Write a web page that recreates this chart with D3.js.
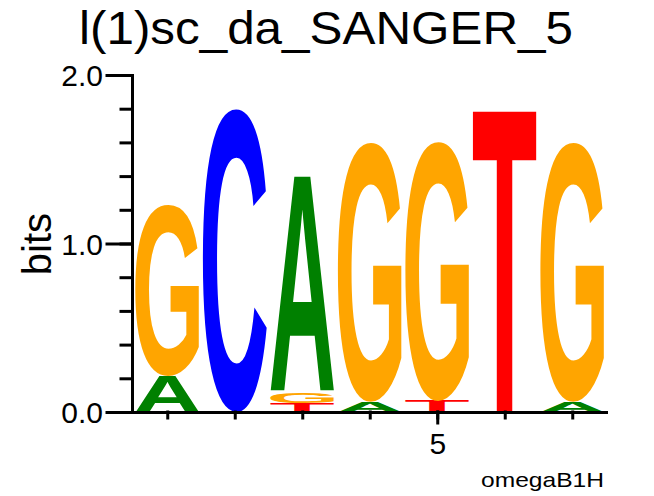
<!DOCTYPE html>
<meta charset="utf-8">
<head>
<style>
  body { margin: 0; background: #fff; }
  svg { display: block; }
  text { font-family: 'Liberation Sans', Arial, sans-serif; fill: #000; }
</style>
</head>
<body>
<div id="logo"></div>
<script src="https://cdn.jsdelivr.net/npm/d3@7"></script>
<script>

// positions along the motif
var positions = [1, 2, 3, 4, 5, 6, 7];

// information (bits) carried by each base at each position
var bitsA = [0.21, 0,    1.28,  0.06, 0,     0,    0.06];
var bitsC = [0,    1.80, 0,     0,    0,     0,    0];
var bitsG = [1.02, 0,    0.065, 1.54, 1.54,  0,    1.54];
var bitsT = [0,    0,    0.055, 0,    0.065, 1.80, 0];

var yTicks = [0, 0.2, 0.4, 0.6, 0.8, 1.0, 1.2, 1.4, 1.6, 1.8, 2.0];
var yLabels = [0, 1, 2];
var xLabels = [5];

var baseColor = {A: "#008000", C: "#0000ff", G: "#ffa500", T: "#ff0000"};

var width = 654, height = 496;

var svg = d3.select("#logo")
  .append("svg")
    .attr("width", width)
    .attr("height", height);

var x = d3.scaleLinear().domain([0.5, 7.5]).range([133.5, 606]);
var y = d3.scaleLinear().domain([0, 2]).range([412, 75]);
var colW = x(2) - x(1);

// title
svg.append("text")
  .attr("x", 79)
  .attr("y", 44)
  .attr("textLength", 494)
  .attr("lengthAdjust", "spacingAndGlyphs")
  .style("font-size", "46px")
  .text("l(1)sc_da_SANGER_5");

// ink bounds of a glyph, so letters can be stretched to fill their box
var ctx = document.createElement("canvas").getContext("2d");
var glyphFont = "bold 200px 'Liberation Sans', Arial, sans-serif";
ctx.font = glyphFont;
var ink = {};
["A", "C", "G", "T"].forEach(function(b) {
  var m = ctx.measureText(b);
  ink[b] = {l: m.actualBoundingBoxLeft, r: m.actualBoundingBoxRight,
            a: m.actualBoundingBoxAscent, d: m.actualBoundingBoxDescent};
});

// build the stacks: smallest at the bottom
var stacks = positions.map(function(p, i) {
  var col = [
    {base: "A", bits: bitsA[i]},
    {base: "C", bits: bitsC[i]},
    {base: "G", bits: bitsG[i]},
    {base: "T", bits: bitsT[i]}
  ].filter(function(d) { return d.bits > 0; })
   .sort(function(a, b) { return a.bits - b.bits; });
  var acc = 0;
  col.forEach(function(d) { d.y0 = acc; acc += d.bits; d.y1 = acc; d.pos = p; });
  return col;
});

var letters = svg.append("g").attr("class", "letters");
stacks.forEach(function(col) {
  letters.selectAll(null)
    .data(col)
    .enter()
    .append("text")
      .style("font", glyphFont)
      .style("fill", function(d) { return baseColor[d.base]; })
      .attr("transform", function(d) {
        var g = ink[d.base];
        var x0 = x(d.pos) - colW / 2 + 1.8;
        var w = colW - 3.6;
        var top = y(d.y1), h = y(d.y0) - y(d.y1);
        var sx = w / (g.l + g.r), sy = h / (g.a + g.d);
        return "translate(" + x0 + "," + top + ") scale(" + sx + "," + sy + ") translate(" + g.l + "," + g.a + ")";
      })
      .text(function(d) { return d.base; });
});

// y axis: minor ticks then major ticks with labels
svg.append("g")
  .attr("transform", "translate(132,0)")
  .call(d3.axisLeft(y).tickValues(yTicks).tickSize(11).tickFormat(""))
  .call(function(g) { g.select(".domain").remove(); });

svg.append("g")
  .attr("transform", "translate(132,0)")
  .call(d3.axisLeft(y).tickValues(yLabels).tickSize(25).tickSizeOuter(0).tickPadding(4)
        .tickFormat(d3.format(".1f")))
  .call(function(g) {
    g.selectAll("text").style("font-size", "30px").attr("dy", "0.36em");
  });

// x axis
svg.append("g")
  .attr("transform", "translate(0,412)")
  .call(d3.axisBottom(x).tickValues(positions).tickSize(6).tickSizeOuter(0).tickFormat(""));

svg.append("g")
  .attr("transform", "translate(0,412)")
  .call(d3.axisBottom(x).tickValues(xLabels).tickSize(11).tickSizeOuter(0).tickPadding(10)
        .tickFormat(d3.format("d")))
  .call(function(g) {
    g.select(".domain").remove();
    g.selectAll("text").style("font-size", "30px").attr("dy", "0.71em");
  });

svg.selectAll(".domain, .tick line")
  .attr("stroke", "#000")
  .attr("stroke-width", 3)
  .attr("stroke-linecap", "square");

// y label
svg.append("text")
  .attr("transform", "translate(51,244) rotate(-90)")
  .attr("text-anchor", "middle")
  .style("font-size", "40px")
  .text("bits");

// footer
svg.append("text")
  .attr("x", 481)
  .attr("y", 487)
  .attr("textLength", 123)
  .attr("lengthAdjust", "spacingAndGlyphs")
  .style("font-size", "21px")
  .text("omegaB1H");

</script>
</body>
